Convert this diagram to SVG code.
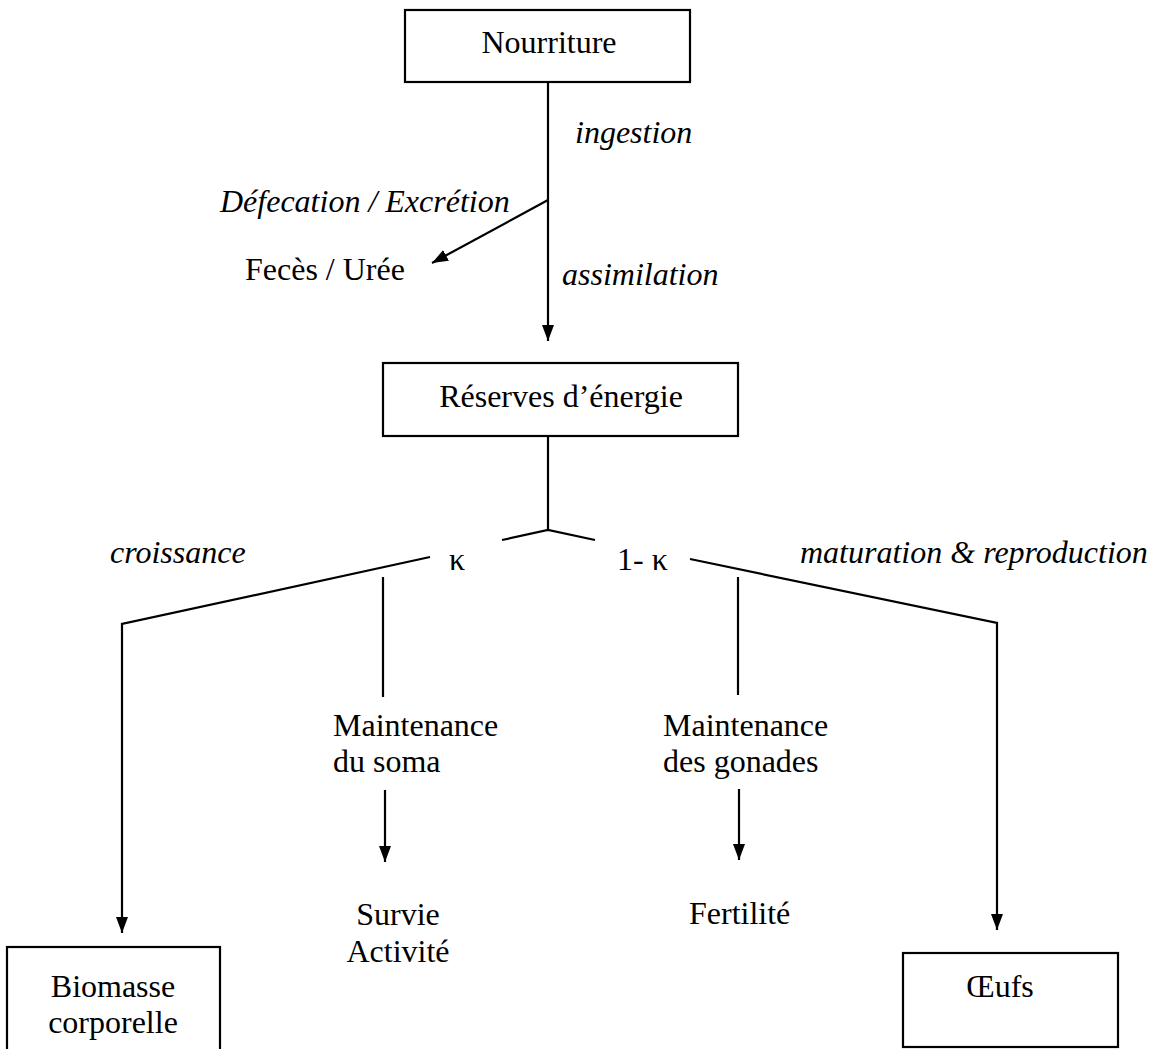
<svg xmlns="http://www.w3.org/2000/svg" width="1158" height="1049" viewBox="0 0 1158 1049">
<style>
text{font-family:"Liberation Serif","Times New Roman",serif;font-size:32px;fill:#000}
.i{font-style:italic}
.box{fill:#fff;stroke:#000;stroke-width:2.2}
.c{fill:none;stroke:#000;stroke-width:2.2}
</style>
<defs>
<marker id="ah" viewBox="0 0 16 12" refX="16" refY="6" markerWidth="16" markerHeight="12" markerUnits="userSpaceOnUse" orient="auto">
<path d="M0,0 L16,6 L0,12 z" fill="#000"/>
</marker>
</defs>
<rect width="1158" height="1049" fill="#fff"/>
<g id="connectors">
<path class="c" d="M548,82 V341" marker-end="url(#ah)"/>
<path class="c" d="M548,200 L432,263" marker-end="url(#ah)"/>
<path class="c" d="M548,436 V530 M502,540 L548,530 L595,540"/>
<path class="c" d="M430,557 L122,624 V933" marker-end="url(#ah)"/>
<path class="c" d="M690,559 L997,623 V930" marker-end="url(#ah)"/>
<path class="c" d="M383,577 V697"/>
<path class="c" d="M738,577 V695"/>
<path class="c" d="M385,790 V862" marker-end="url(#ah)"/>
<path class="c" d="M739,789 V860" marker-end="url(#ah)"/>
</g>
<g id="labels">
<text class="i" x="575" y="143">ingestion</text>
<text class="i" x="220" y="212">Défecation / Excrétion</text>
<text class="i" x="562" y="285">assimilation</text>
<text class="i" x="110" y="563">croissance</text>
<text class="i" x="800" y="563">maturation &amp; reproduction</text>
<text x="457" y="570" text-anchor="middle">κ</text>
<text x="617" y="570">1- κ</text>
</g>
<g id="nourriture">
<rect class="box" x="405" y="10" width="285" height="72"/>
<text x="549" y="53" text-anchor="middle">Nourriture</text>
</g>
<g id="feces">
<text x="245" y="280">Fecès / Urée</text>
</g>
<g id="reserves">
<rect class="box" x="383" y="363" width="355" height="73"/>
<text x="561" y="407" text-anchor="middle">Réserves d’énergie</text>
</g>
<g id="maint-soma">
<text x="333" y="736">Maintenance</text>
<text x="333" y="772">du soma</text>
</g>
<g id="maint-gonades">
<text x="663" y="736">Maintenance</text>
<text x="663" y="772">des gonades</text>
</g>
<g id="survie">
<text x="398" y="925" text-anchor="middle">Survie</text>
<text x="398" y="962" text-anchor="middle">Activité</text>
</g>
<g id="fertilite">
<text x="689" y="924">Fertilité</text>
</g>
<g id="biomasse">
<rect class="box" x="7" y="947" width="213" height="130"/>
<text x="113" y="997" text-anchor="middle">Biomasse</text>
<text x="113" y="1033" text-anchor="middle">corporelle</text>
</g>
<g id="oeufs">
<rect class="box" x="903" y="953" width="215" height="94"/>
<text x="1000" y="997" text-anchor="middle">Œufs</text>
</g>
</svg>
